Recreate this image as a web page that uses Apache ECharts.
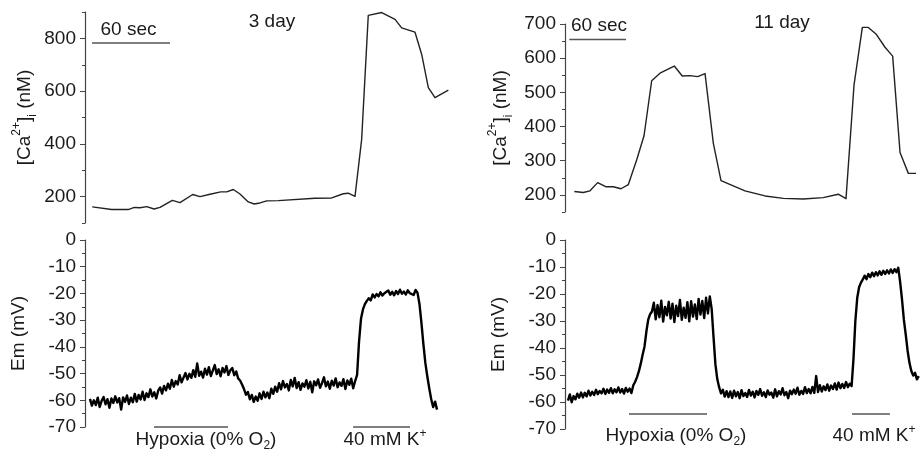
<!DOCTYPE html>
<html><head><meta charset="utf-8">
<script src="https://cdn.jsdelivr.net/npm/echarts@6/dist/echarts.min.js"></script>
<style>html,body{margin:0;padding:0;background:#fff}#c{width:920px;height:454px}</style>
</head><body><div id="c"></div>
<script>
// ---------- data (time in seconds) ----------
// Top-left [Ca2+]i, 3 day
const caLeftT = [5.6,20.5,33.3,37.9,42.3,47.5,53.1,57.7,67.2,73.1,82.8,88.5,96.2,104.4,109,114.1,119.2,125.6,130.2,134.6,139.8,148.7,176.9,189.8,198.7,202.5,207.7,212.8,217.9,228.2,238.5,243.6,253.8,259,264.1,269.2,279.5];
const caLeftV = [161,151,151,159,158,162,153,159,186,177,208,200,209,218,218,227,210,180,172,176,184,185,194,195,211,213,201,416,887,898,872,840,824,739,613,575,604];
// Top-right [Ca2+]i, 11 day
const caRightT = [10,19.6,26.8,35,43.6,51.8,60,67.8,76.8,84.7,92.9,101.8,117.1,125.7,134,142.2,150.1,159,167.2,192.9,214.4,234,255.4,276.8,292.9,301.2,309.8,318.7,325.1,333.3,343,351.2,359.1,368,376.2];
const caRightV = [210,207,212,236,224,224,218,230,302,373,534,556,577,548,549,546,555,351,242,212,197,190,188,192,202,189,522,690,690,671,632,606,324,263,263];

// Bottom-left Em (mV), sampled every 1.5 s from t = 3.8 s
const emLeftStart = 3.8, emLeftStep = 1.5;
const emLeftV = [
-59.5,-62,-60,-61.8,-59,-62.5,-60.2,-58.8,-61.5,-59.6,
-62.8,-59.3,-61,-58.5,-60.8,-59.2,-63.5,-58.9,-60.6,-58.2,
-61.4,-59,-60.7,
-57.6,-60.5,-58,-59.7,-56.8,-59.9,-57.4,-58.8,-55.9,-58.6,-57,-59.3,-56.4,
-55.2,-57.5,-54.6,-56.3,-53.8,-55.7,-52.4,-54.9,-52.8,-54.1,-50.6,-53.3,-51.5,
-49.8,-52.2,-50.1,-51.6,-48.7,-51.2,-46.2,-50.8,-49.3,-51.5,-48.2,-50.4,-47.6,-50.9,-48.9,-46.8,-50.2,-48.4,-51,-47.9,-49.6,-47.2,-50.5,-48.8,
-47.9,-50.6,-49.2,-51.8,-52.6,-54.1,-55.8,-57.9,-56.9,-59.6,-58,-60.6,
-58.6,-60.2,-57.4,-59.5,-56.8,-58.9,-57.1,-59.2,-55.7,-57.6,-54.9,-56.8,
-53.6,-55.9,-52.8,-55.2,-53.9,-56.3,-52.4,-54.8,-51.6,-55.4,
-53.2,-56.1,-53.7,-54.9,-52.5,-55.6,-53.1,-57,-52.9,-54.4,
-52.2,-55.3,-53.6,-51.4,-54.8,-53,-55.7,-52.7,-54.5,-51.8,
-55.1,-53.3,-54.6,-52.1,-55.8,-52.6,-54.2,-51.9,-55.5,-52.8,
-50.5,-38,-29.5,-26,-24,-22.8,
-21.8,-22.6,-20.4,-21.5,-20.2,-21.1,-19.6,-20.8,-19.9,-20.6,
-18.9,-20.5,-19.4,-20.7,-19.1,-20.2,-18.6,-20.1,-19.3,-20.4,
-18.8,-19.9,-19.2,-20.6,-18.7,-19.8,
-24,-31,-39,-46,-51,-55.5,-59.5,-62.5,-60.5,-63.5
];
// Bottom-right Em (mV), sampled every 2 s from t = 3.2 s
const emRightStart = 3.2, emRightStep = 2;
const emRightV = [
-59.5,-57.2,-60.1,-57.8,-59,-56.9,-58.4,-56.5,-58.3,-56.6,
-57.9,-55.8,-57.6,-56.2,-57.4,-55.5,-57.1,-55.9,-56.8,-55.1,
-57,-55.4,-56.6,-54.9,-56.8,-55.3,-56.4,-54.6,-56.5,-55.2,
-56.9,-54.8,-56.2,-55,-56.7,
-53.8,-52.5,-50.8,-48.6,-45.8,-42.5,-39.5,-34,-29.5,-27.5,-26.5,
-23.2,-29.4,-24.1,-28.6,-22.5,-30.2,-24.8,-27.9,-22.9,-29.1,
-23.6,-30.4,-24.3,-28.2,-22.2,-29.6,-25.1,-28.8,-23,-30.1,
-22.7,-28.4,-23.9,-29.3,-21.8,-27.6,-22.6,-28.9,-21.4,-27.2,
-20.9,
-25.5,-36,-46,-51.5,-54.5,-56.8,-55.5,-58,-56,-58.2,
-56.1,-58.5,-55.8,-57.9,-56.3,-58.6,-55.6,-57.8,-56.7,-58.1,
-55.5,-57.6,-56.2,-58.3,-55.9,-57.4,-55.2,-57.7,-56.4,-58.2,
-55.7,-57.3,-56.5,-58.4,-55.3,-57.9,-56,-57.2,-54.9,-57.5,
-56.3,-58.6,-55.8,-57.1,-55.4,-56.9,-54.7,-57.3,-55.9,-57,
-54.5,-56.7,-55.2,-56.8,-54.4,-56.6,-50.4,-56.3,-53.8,-56.1,
-54.2,-55.6,-53.5,-55.8,-53.9,-55.2,-53.1,-55.4,-52.8,-54.9,
-53.3,-54.8,-52.6,-54.5,-53.2,-54.1,
-44,-30,-21.5,-17.5,-15.8,-14.6,
-13.2,-14.5,-12.6,-13.8,-12.1,-13.4,-11.9,-13.1,-11.6,-12.9,
-11.4,-12.6,-11.2,-12.4,-10.9,-12.2,-10.8,-11.9,-10.3,
-15.5,-22,-29.5,-35,-41,-45.5,-48.5,-50.2,-49.2,-51.6,-50.4
];

// axis ticks
const caLeftTicks = [200,400,600,800];
const caRightTicks = [200,300,400,500,600,700];

// annotation bars (time span in s, level in axis units)
const secBarLeft = [5.4, 65.4], secBarLeftLevel = 782;
const secBarRight = [4.6, 65.4], secBarRightLevel = 655;
const hypoxiaLeft = [53.1, 110], kLeft = [206.2, 250], barLeftLevel = -70;
const hypoxiaRight = [68.6, 152.2], kRight = [307.6, 348.3], barRightLevel = -64.4;

// ---------- chart ----------
const FONT = '"Liberation Sans", Arial, Helvetica, sans-serif';
const FS = 19;
const TXT = '#1a1a1a';
const AX = '#444';
const leftMax = 370 / 1.3, rightMax = 355 / 0.933;

const chart = echarts.init(document.getElementById('c'), null, {renderer: 'canvas'});

const nameRich = {
  a: {fontSize: FS, fontFamily: FONT, color: TXT, lineHeight: 28},
  sup: {fontSize: 12, fontFamily: FONT, color: TXT, verticalAlign: 'top', lineHeight: 12},
  sub: {fontSize: 12, fontFamily: FONT, color: TXT, verticalAlign: 'bottom', lineHeight: 12}
};
const caName = '{a|[Ca}{sup|2+}{a|]}{sub|i}{a| (nM)}';
const emName = '{a|Em (mV)}';

function minorAxis(grid, min, max, interval) {
  return {type: 'value', gridIndex: grid, position: 'left', min, max, interval,
    axisLine: {show: true, lineStyle: {color: AX, width: 1.2}},
    axisTick: {show: true, length: 3, lineStyle: {color: AX, width: 1}},
    axisLabel: {show: false}, splitLine: {show: false}};
}
function majorAxis(grid, min, max, vals, name, gap) {
  return {type: 'value', gridIndex: grid, position: 'left', min, max,
    axisLine: {show: false},
    axisTick: {show: true, length: 5, customValues: vals, lineStyle: {color: AX, width: 1}},
    axisLabel: {customValues: vals, fontSize: FS, fontFamily: FONT, color: TXT, margin: 9},
    splitLine: {show: false},
    name, nameLocation: 'middle', nameGap: gap,
    nameTextStyle: {fontSize: FS, fontFamily: FONT, color: TXT, rich: nameRich}};
}
function emAxis(grid, gap) {
  return {type: 'value', gridIndex: grid, position: 'left', min: -70, max: 0, interval: 10,
    axisLine: {show: true, lineStyle: {color: AX, width: 1.2}},
    axisTick: {show: true, length: 5, lineStyle: {color: AX, width: 1}},
    minorTick: {show: true, splitNumber: 2, length: 3, lineStyle: {color: AX, width: 1}},
    axisLabel: {fontSize: FS, fontFamily: FONT, color: TXT, margin: 9},
    splitLine: {show: false}, minorSplitLine: {show: false},
    name: emName, nameLocation: 'middle', nameGap: gap,
    nameTextStyle: {fontSize: FS, fontFamily: FONT, color: TXT, rich: nameRich}};
}

function trace(xi, yi, data, w, col) {
  return {type: 'line', xAxisIndex: xi, yAxisIndex: yi, data, showSymbol: false, symbol: 'none',
    animation: false, silent: true, lineStyle: {width: w, color: col, join: 'round'}, clip: false};
}
function bar(xi, yi, span, level) {
  return trace(xi, yi, [[span[0], level], [span[1], level]], 1.5, '#555');
}

const series = [
  trace(0, 1, caLeftT.map((t, i) => [t, caLeftV[i]]), 1.4, '#222'),
  trace(1, 2, emLeftV.map((v, i) => [emLeftStart + i * emLeftStep, v]), 2.4, '#000'),
  trace(2, 4, caRightT.map((t, i) => [t, caRightV[i]]), 1.4, '#222'),
  trace(3, 5, emRightV.map((v, i) => [emRightStart + i * emRightStep, v]), 2.4, '#000'),
  bar(0, 1, secBarLeft, secBarLeftLevel),
  bar(2, 4, secBarRight, secBarRightLevel),
  bar(1, 2, hypoxiaLeft, barLeftLevel),
  bar(1, 2, kLeft, barLeftLevel),
  bar(3, 5, hypoxiaRight, barRightLevel),
  bar(3, 5, kRight, barRightLevel)
];

const textRich = {
  a: {fontSize: FS, fontFamily: FONT, fill: TXT, color: TXT, lineHeight: 24},
  sub: {fontSize: 12, fontFamily: FONT, fill: TXT, color: TXT, verticalAlign: 'bottom', lineHeight: 12},
  sup: {fontSize: 12, fontFamily: FONT, fill: TXT, color: TXT, verticalAlign: 'top', lineHeight: 12}
};
function label(x, y, text) {
  return {type: 'text', x, y, silent: true,
    style: {text, fill: TXT, font: FS + 'px ' + FONT, rich: textRich,
      align: 'center', verticalAlign: 'middle', textAlign: 'center', textVerticalAlign: 'middle'}};
}

chart.setOption({
  backgroundColor: '#fff',
  animation: false,
  grid: [
    {left: 85, top: 12, width: 370, height: 211},
    {left: 85, top: 240, width: 370, height: 187},
    {left: 565, top: 24, width: 355, height: 188},
    {left: 565, top: 240, width: 355, height: 189}
  ],
  xAxis: [0, 1, 2, 3].map(g => ({type: 'value', gridIndex: g, min: 0, max: g < 2 ? leftMax : rightMax, show: false})),
  yAxis: [
    minorAxis(0, 100, 900, 100),
    majorAxis(0, 100, 900, caLeftTicks, caName, 46),
    emAxis(1, 52),
    minorAxis(2, 150, 700, 50),
    majorAxis(2, 150, 700, caRightTicks, caName, 50),
    emAxis(3, 52)
  ],
  series,
  graphic: [
    label(128.5, 30, '{a|60 sec}'),
    label(272, 22, '{a|3 day}'),
    label(599, 26, '{a|60 sec}'),
    label(782, 23, '{a|11 day}'),
    label(206, 440, '{a|Hypoxia (0% O}{sub|2}{a|)}'),
    label(385, 440, '{a|40 mM K}{sup|+}'),
    label(676, 435.5, '{a|Hypoxia (0% O}{sub|2}{a|)}'),
    label(874, 435.5, '{a|40 mM K}{sup|+}')
  ]
});
</script>
</body></html>
